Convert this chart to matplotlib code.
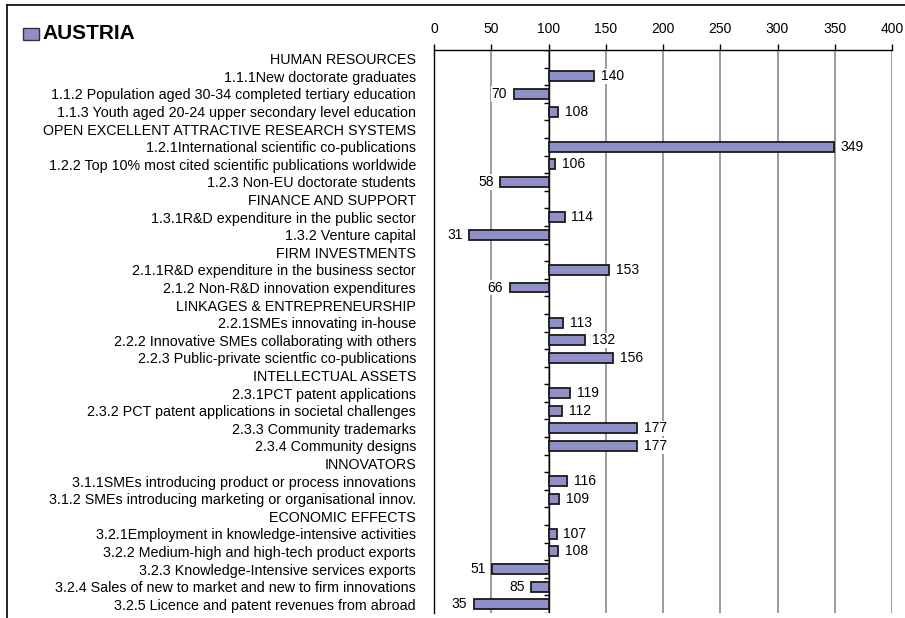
import numpy as np
import matplotlib
matplotlib.use("Agg")
import matplotlib.pyplot as plt
from matplotlib.lines import Line2D
from matplotlib.patches import Rectangle

plt.rcParams['font.family'] = ['Liberation Sans', 'DejaVu Sans']

title = "AUSTRIA"
row_labels = [
    "HUMAN RESOURCES",
    "1.1.1New doctorate graduates",
    "1.1.2 Population aged 30-34 completed tertiary education",
    "1.1.3 Youth aged 20-24 upper secondary level education",
    "OPEN EXCELLENT ATTRACTIVE RESEARCH SYSTEMS",
    "1.2.1International scientific co-publications",
    "1.2.2 Top 10% most cited scientific publications worldwide",
    "1.2.3 Non-EU doctorate students",
    "FINANCE AND SUPPORT",
    "1.3.1R&D expenditure in the public sector",
    "1.3.2 Venture capital",
    "FIRM INVESTMENTS",
    "2.1.1R&D expenditure in the business sector",
    "2.1.2 Non-R&D innovation expenditures",
    "LINKAGES & ENTREPRENEURSHIP",
    "2.2.1SMEs innovating in-house",
    "2.2.2 Innovative SMEs collaborating with others",
    "2.2.3 Public-private scientfic co-publications",
    "INTELLECTUAL ASSETS",
    "2.3.1PCT patent applications",
    "2.3.2 PCT patent applications in societal challenges",
    "2.3.3 Community trademarks",
    "2.3.4 Community designs",
    "INNOVATORS",
    "3.1.1SMEs introducing product or process innovations",
    "3.1.2 SMEs introducing marketing or organisational innov.",
    "ECONOMIC EFFECTS",
    "3.2.1Employment in knowledge-intensive activities",
    "3.2.2 Medium-high and high-tech product exports",
    "3.2.3 Knowledge-Intensive services exports",
    "3.2.4 Sales of new to market and new to firm innovations",
    "3.2.5 Licence and patent revenues from abroad",
]
nan = np.nan
values = [nan, 140, 70, 108,
          nan, 349, 106, 58,
          nan, 114, 31,
          nan, 153, 66,
          nan, 113, 132, 156,
          nan, 119, 112, 177, 177,
          nan, 116, 109,
          nan, 107, 108, 51, 85, 35]
baseline = 100
x_ticks = [0, 50, 100, 150, 200, 250, 300, 350, 400]

bar_color = '#9090C8'
edge_color = '#1a1a1a'

W, H = 905, 618
fig = plt.figure(figsize=(W / 100, H / 100), dpi=100)
ax = fig.add_axes([434 / W, 1 - 613 / H, (892 - 434) / W, (613 - 50) / H])

vals = np.array(values, dtype=float)
n = len(row_labels)
y = np.arange(n)
mask = ~np.isnan(vals)

# grid
for xt in x_ticks[1:]:
    ax.axvline(xt, color='#8a8a8a', lw=1.2, zorder=0)
ax.axvline(baseline, color='black', lw=1.0, zorder=1)
# small category tick marks on the baseline
bounds = np.arange(n + 1) - 0.5
ax.hlines(bounds, baseline - 3.5, baseline, color='black', lw=1.0, zorder=1)

ax.barh(y[mask], vals[mask] - baseline, left=baseline, height=0.56,
        color=bar_color, edgecolor=edge_color, lw=1.3, zorder=3)

for yi, v in zip(y[mask], vals[mask]):
    if v >= baseline:
        ax.annotate(f"{v:.0f}", (v, yi), xytext=(5, 0), textcoords='offset points',
                    ha='left', va='center', fontsize=10, zorder=4,
                    bbox=dict(boxstyle='square,pad=0.05', fc='white', ec='none'))
    else:
        ax.annotate(f"{v:.0f}", (v, yi), xytext=(-5, 0), textcoords='offset points',
                    ha='right', va='center', fontsize=10, zorder=4,
                    bbox=dict(boxstyle='square,pad=0.05', fc='white', ec='none'))

ax.set_xlim(0, 400)
ax.set_ylim(n - 0.5, -0.5)
ax.xaxis.tick_top()
ax.set_xticks(x_ticks)
ax.set_xticklabels([str(t) for t in x_ticks], fontsize=10)
ax.tick_params(axis='x', direction='out', length=4, width=1, pad=6, color='black')
ax.set_yticks(y)
ax.set_yticklabels(row_labels, fontsize=10.3)
ax.tick_params(axis='y', length=0, pad=13)

for s in ['right', 'bottom']:
    ax.spines[s].set_visible(False)
for s in ['top', 'left']:
    ax.spines[s].set_color('black')
    ax.spines[s].set_linewidth(1.0)

# figure frame
x0, ytop = 7 / W, 1 - 5 / H
fig.add_artist(Line2D([x0, 1], [ytop, ytop], transform=fig.transFigure, color='black', lw=1.2))
fig.add_artist(Line2D([x0, x0], [0, ytop], transform=fig.transFigure, color='black', lw=1.2))

# title with square marker
fig.add_artist(Rectangle((23 / W, 1 - 40 / H), 16 / W, 12 / H, transform=fig.transFigure,
                         fc=bar_color, ec='#333333', lw=1.0))
fig.text(42 / W, 1 - 39 / H, title, fontsize=15, fontweight='bold', ha='left', va='baseline')

fig.savefig('out.png', dpi=100)
